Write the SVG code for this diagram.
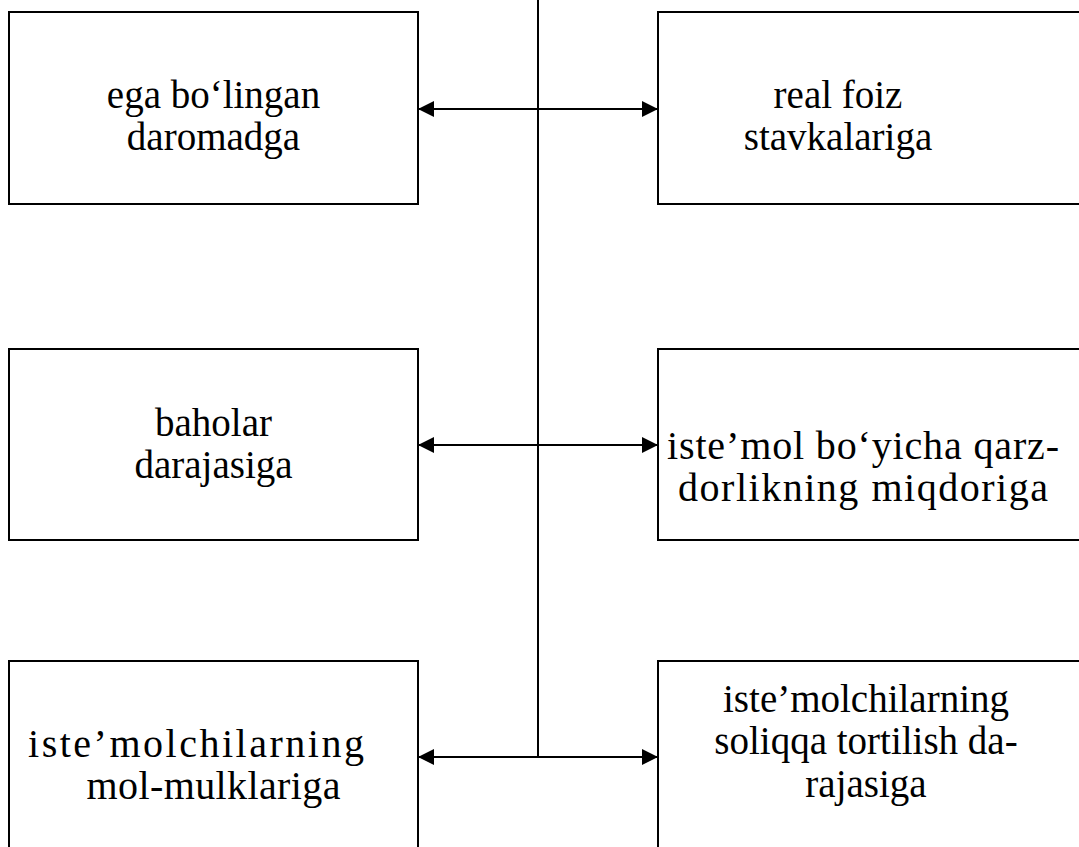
<svg xmlns="http://www.w3.org/2000/svg" width="1079" height="847" viewBox="0 0 1079 847">
<style>
.box{fill:#fff;stroke:#000;stroke-width:2}
.t{font-family:"Liberation Serif","Times New Roman",serif;font-size:39px;fill:#000;text-anchor:middle}
.ln{stroke:#000;stroke-width:2;fill:none}
</style>
<defs>
<marker id="ah" viewBox="0 0 16 16" refX="16" refY="8" markerWidth="16" markerHeight="16" markerUnits="userSpaceOnUse" orient="auto-start-reverse">
<path d="M0,0 L16,8 L0,16 Z" fill="#000"/>
</marker>
</defs>
<rect width="1079" height="847" fill="#fff"/>
<g id="n1"><rect class="box" x="9" y="12" width="409" height="192"/>
<text class="t" x="213.5" y="108">ega bo‘lingan</text><text class="t" x="213.5" y="150">daromadga</text></g>
<g id="n2"><rect class="box" x="658" y="12" width="440" height="192"/>
<text class="t" x="838" y="108">real foiz</text><text class="t" x="838" y="150">stavkalariga</text></g>
<g id="n3"><rect class="box" x="9" y="349" width="409" height="191"/>
<text class="t" x="213.5" y="436">baholar</text><text class="t" x="213.5" y="478">darajasiga</text></g>
<g id="n4"><rect class="box" x="658" y="349" width="440" height="191"/>
<text class="t" x="863" y="459" style="font-size:40px" textLength="392" lengthAdjust="spacing">iste’mol bo‘yicha qarz-</text><text class="t" x="863" y="501" style="font-size:40px" textLength="370" lengthAdjust="spacing">dorlikning miqdoriga</text></g>
<g id="n5"><rect class="box" x="9" y="661" width="409" height="200"/>
<text class="t" x="196" y="757" style="font-size:40px" textLength="336" lengthAdjust="spacing">iste’molchilarning</text><text class="t" x="213.5" y="799" style="font-size:40px" textLength="254" lengthAdjust="spacing">mol-mulklariga</text></g>
<g id="n6"><rect class="box" x="658" y="661" width="440" height="200"/>
<text class="t" x="866" y="712">iste’molchilarning</text><text class="t" x="866" y="754">soliqqa tortilish da-</text><text class="t" x="866" y="797">rajasiga</text></g>
<g id="connectors">
<line class="ln" x1="538" y1="0" x2="538" y2="757"/>
<line class="ln" x1="418" y1="109" x2="658" y2="109" marker-start="url(#ah)" marker-end="url(#ah)"/>
<line class="ln" x1="418" y1="445" x2="658" y2="445" marker-start="url(#ah)" marker-end="url(#ah)"/>
<line class="ln" x1="418" y1="757" x2="658" y2="757" marker-start="url(#ah)" marker-end="url(#ah)"/>
</g>
</svg>
